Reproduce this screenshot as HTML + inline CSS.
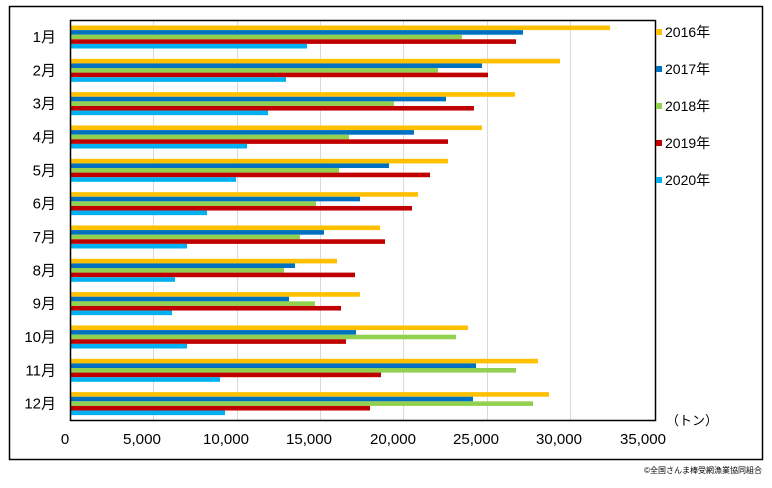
<!DOCTYPE html>
<html><head><meta charset="utf-8"><style>
body{margin:0;background:#fff}
text{font-family:"Liberation Sans","Noto Sans CJK JP",sans-serif}
</style></head><body>
<svg width="772" height="483" xmlns="http://www.w3.org/2000/svg">
<rect x="9.5" y="6.5" width="753" height="453" fill="#fff" stroke="#000" stroke-width="1.5"/>
<g stroke="#d9d9d9" stroke-width="1">
<line x1="153.5" y1="20" x2="153.5" y2="420"/><line x1="237.5" y1="20" x2="237.5" y2="420"/>
<line x1="320.5" y1="20" x2="320.5" y2="420"/><line x1="403.5" y1="20" x2="403.5" y2="420"/>
<line x1="487.5" y1="20" x2="487.5" y2="420"/><line x1="570.5" y1="20" x2="570.5" y2="420"/>
</g>
<g id="bars"></g>
<rect x="70.5" y="20.5" width="585" height="400" fill="none" stroke="#000" stroke-width="1.5"/>
<g font-size="15" text-anchor="middle" fill="#000" id="ticks"><text x="65" y="444">0</text></g>
<text x="692" y="425" font-size="13" text-anchor="middle">（トン）</text>
<g font-size="11" fill="#000" id="leg"></g>
<text x="762" y="473" font-size="8" text-anchor="end" fill="#000">©全国さんま棒受網漁業協同組合</text>
<g id="lab" font-size="15" text-anchor="end"></g>
</svg>
<script>
var ns="http://www.w3.org/2000/svg";
var cols=["#FFC000","#0070C0","#92D050","#C00000","#00B0F0"];
var d=[[610,523,462,516,307],[560,482,438,488,286],[515,446,394,474,268],[482,414,349,448,247],
[448,389,339,430,236],[418,360,316,412,207],[380,324,300,385,187],[337,295,284,355,175],
[360,289,315,341,172],[468,356,456,346,187],[538,476,516,381,220],[549,473,533,370,225]];
var g=document.getElementById("bars"),lab=document.getElementById("lab");
d.forEach(function(r,i){var t=20+i*33.33+5.5;
r.forEach(function(x,j){var e=document.createElementNS(ns,"rect");
e.setAttribute("x",71);e.setAttribute("y",t+j*4.6);e.setAttribute("width",x-71);e.setAttribute("height",4.6);
e.setAttribute("fill",cols[j]);g.appendChild(e);});
var tx=document.createElementNS(ns,"text");tx.setAttribute("x",56);tx.setAttribute("y",20+i*33.33+22);
tx.textContent=(i+1)+"月";lab.appendChild(tx);});
var tk=document.getElementById("ticks");
[["5,000",142,38],["10,000",226,46],["15,000",309,46],["20,000",393,46],["25,000",476,46],["30,000",559,46],["35,000",643,46]].forEach(function(a){
var t=document.createElementNS(ns,"text");t.setAttribute("x",a[1]);t.setAttribute("y",444);
t.setAttribute("textLength",a[2]);t.setAttribute("lengthAdjust","spacingAndGlyphs");t.textContent=a[0];tk.appendChild(t);});
var leg=document.getElementById("leg");
["2016年","2017年","2018年","2019年","2020年"].forEach(function(s,j){var y=33+j*37;
var e=document.createElementNS(ns,"rect");e.setAttribute("x",656);e.setAttribute("y",y-4);e.setAttribute("width",6);e.setAttribute("height",6);e.setAttribute("fill",cols[j]);leg.appendChild(e);
var t=document.createElementNS(ns,"text");t.setAttribute("x",665);t.setAttribute("y",y+4);t.setAttribute("font-size","14");t.textContent=s;leg.appendChild(t);});
</script>
</body></html>
